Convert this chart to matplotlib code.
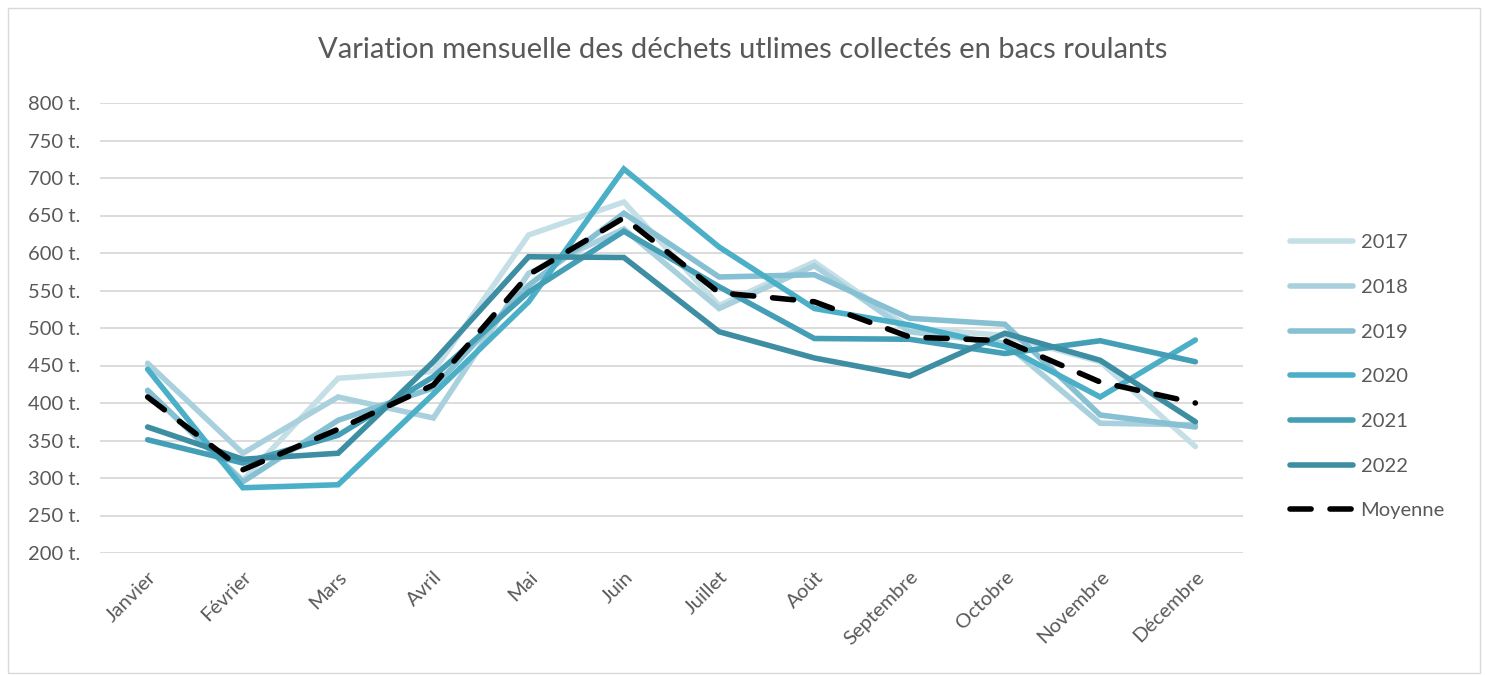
import matplotlib.pyplot as plt
from matplotlib.patches import Rectangle

months = ['Janvier', 'Février', 'Mars', 'Avril', 'Mai', 'Juin', 'Juillet',
          'Août', 'Septembre', 'Octobre', 'Novembre', 'Décembre']

y2017 = [415, 297, 433, 442, 624, 668, 530, 588, 500, 490, 455, 342]
y2018 = [453, 333, 408, 380, 573, 632, 526, 583, 495, 480, 373, 371]
y2019 = [417, 295, 377, 420, 557, 653, 568, 571, 513, 505, 384, 368]
y2020 = [445, 287, 291, 412, 535, 712, 608, 526, 504, 475, 408, 484]
y2021 = [351, 320, 357, 435, 548, 629, 555, 486, 485, 466, 483, 455]
y2022 = [368, 325, 333, 455, 595, 594, 495, 460, 436, 493, 457, 375]
moyenne = [408, 311, 365, 424, 571, 647, 547, 535, 488, 483, 428, 400]

series = [('2017', y2017, '#c5dfe7'),
          ('2018', y2018, '#a8d0dd'),
          ('2019', y2019, '#86c0d2'),
          ('2020', y2020, '#4bafc7'),
          ('2021', y2021, '#449fb6'),
          ('2022', y2022, '#3d8da3')]

plt.rcParams['font.family'] = ['Lato', 'DejaVu Sans']

fig = plt.figure(figsize=(14.86, 6.75), dpi=100)
ax = fig.add_axes([100 / 1486, 1 - 553 / 675, 1143 / 1486, 450 / 675])

x = range(len(months))
for label, vals, col in series:
    ax.plot(x, vals, color=col, lw=4, label=label, solid_capstyle='round',
            solid_joinstyle='miter')
ax.plot(x, moyenne, color='black', lw=4, ls=(0, (3.8, 3.4)),
        dash_capstyle='round', label='Moyenne')

ax.set_xlim(-0.5, 11.5)
ax.set_ylim(200, 800)
ax.set_yticks(range(200, 801, 50))
ax.set_yticklabels([f'{v} t.' for v in range(200, 801, 50)])
ax.set_xticks(list(x))
ax.set_xticklabels(months, rotation=45, ha='right', rotation_mode='anchor')
ax.tick_params(length=0, labelsize=14.5, labelcolor='#595959')
ax.tick_params(axis='y', pad=14)
ax.tick_params(axis='x', pad=11)
ax.grid(axis='y', color='#d9d9d9', lw=1.3)
ax.set_axisbelow(True)
for s in ax.spines.values():
    s.set_visible(False)

fig.text(0.5, 1 - 50 / 675, 'Variation mensuelle des déchets utlimes collectés en bacs roulants',
         ha='center', va='center', fontsize=21, color='#595959')

fig.legend(loc='upper left', bbox_to_anchor=(1272 / 1486, 1 - 216 / 675),
           frameon=False, fontsize=14.5, labelcolor='#595959', handlelength=3.1,
           labelspacing=1.37, handletextpad=0.4)

fig.patches.append(Rectangle((8 / 1486, 2 / 675), 1472 / 1486, 665 / 675,
                             transform=fig.transFigure, fill=False,
                             edgecolor='#d9d9d9', lw=1))

fig.savefig('out.png', dpi=100, facecolor='white')
